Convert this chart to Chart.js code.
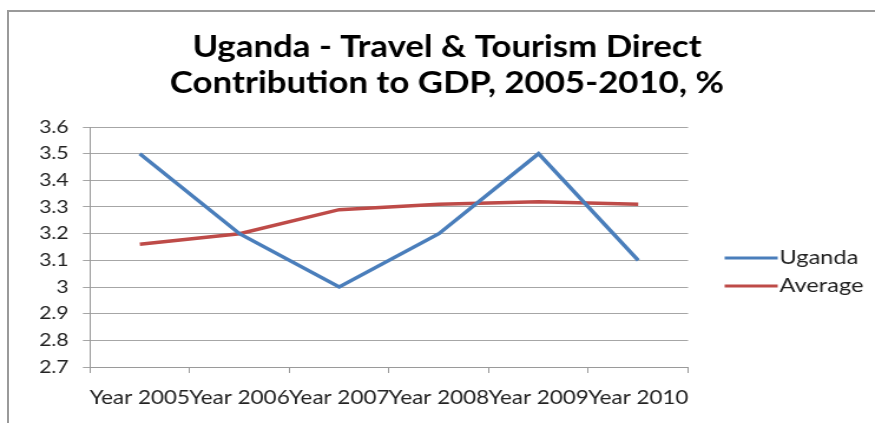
<!DOCTYPE html>
<html>
<head>
<meta charset="utf-8">
<script src="https://cdn.jsdelivr.net/npm/chart.js@4.4.1/dist/chart.umd.min.js"></script>
<style>
  html, body { margin: 0; padding: 0; background: #fff; overflow: hidden; }
  #wrap { position: relative; width: 875px; height: 423px; overflow: hidden; }
  /* the chart is laid out narrower and widened to the full window */
  #chart { position: absolute; left: 0; top: 0; transform-origin: 0 0; transform: scaleX(1.1792); }
  #frame {
    position: absolute; left: 7px; top: 10px; width: 900px; height: 450px;
    border: 2px solid #9a9a9a; pointer-events: none;
  }
</style>
</head>
<body>
<div id="wrap">
  <canvas id="chart" width="742" height="423"></canvas>
  <div id="frame"></div>
</div>
<script>
const years = ["Year 2005", "Year 2006", "Year 2007", "Year 2008", "Year 2009", "Year 2010"];
const uganda = [3.5, 3.2, 3.0, 3.2, 3.5, 3.1];
const average = [3.16, 3.2, 3.29, 3.31, 3.32, 3.31];
const titleLines = ["Uganda - Travel & Tourism Direct", "Contribution to GDP, 2005-2010, %"];

const FONT = "Lato, 'Liberation Sans', sans-serif";

// two-line title, centred over the whole box rather than the plot
const boxTitle = {
  id: "boxTitle",
  afterDraw(chart) {
    const ctx = chart.ctx;
    const cx = 379;
    const rows = [47.5, 83];
    ctx.save();
    ctx.fillStyle = "#000";
    ctx.font = "bold 29.5px " + FONT;
    ctx.textAlign = "center";
    ctx.textBaseline = "middle";
    titleLines.forEach((t, i) => ctx.fillText(t, cx, rows[i]));
    ctx.restore();
  }
};

// legend on the right, short line sample followed by the series name
const sideLegend = {
  id: "sideLegend",
  afterDraw(chart) {
    const ctx = chart.ctx;
    const x0 = chart.chartArea.right + 31;
    const rows = [258, 286];
    ctx.save();
    chart.data.datasets.forEach((ds, i) => {
      const y = rows[i];
      ctx.strokeStyle = ds.borderColor;
      ctx.lineWidth = 3;
      ctx.beginPath();
      ctx.moveTo(x0, y);
      ctx.lineTo(x0 + 45, y);
      ctx.stroke();
      ctx.fillStyle = "#222";
      ctx.font = "20px " + FONT;
      ctx.textBaseline = "middle";
      ctx.fillText(ds.label, x0 + 46.5, y);
    });
    ctx.restore();
  }
};

new Chart(document.querySelector("#chart"), {
  type: "line",
  data: {
    labels: years,
    datasets: [
      {
        label: "Uganda",
        data: uganda,
        borderColor: "#4a7ebb",
        borderWidth: 3.5,
        pointRadius: 0,
        tension: 0
      },
      {
        label: "Average",
        data: average,
        borderColor: "#be4b48",
        borderWidth: 3.5,
        pointRadius: 0,
        tension: 0
      }
    ]
  },
  options: {
    responsive: false,
    animation: false,
    layout: { padding: { left: 10, right: 158.5, top: 127, bottom: 0 } },
    plugins: {
      legend: { display: false },
      tooltip: { enabled: false },
      title: { display: false }
    },
    scales: {
      x: {
        offset: true,
        grid: { offset: true, drawOnChartArea: false, tickLength: 6, color: "#9a9a9a" },
        border: { color: "#9a9a9a", width: 1 },
        ticks: {
          autoSkip: false, maxRotation: 0, minRotation: 0, padding: 13,
          color: "#222", font: { family: FONT, size: 19 }
        },
        afterFit(scale) { scale.height = 56; }
      },
      y: {
        min: 2.7,
        max: 3.6,
        grid: { color: "#a6a6a6", tickLength: 6 },
        border: { color: "#9a9a9a", width: 1 },
        ticks: {
          stepSize: 0.1, padding: 12,
          color: "#222", font: { family: FONT, size: 18 },
          callback: (v) => String(Number(v.toFixed(1)))
        },
        afterFit(scale) { scale.width = 66.3; }
      }
    }
  },
  plugins: [boxTitle, sideLegend]
});
</script>
</body>
</html>
